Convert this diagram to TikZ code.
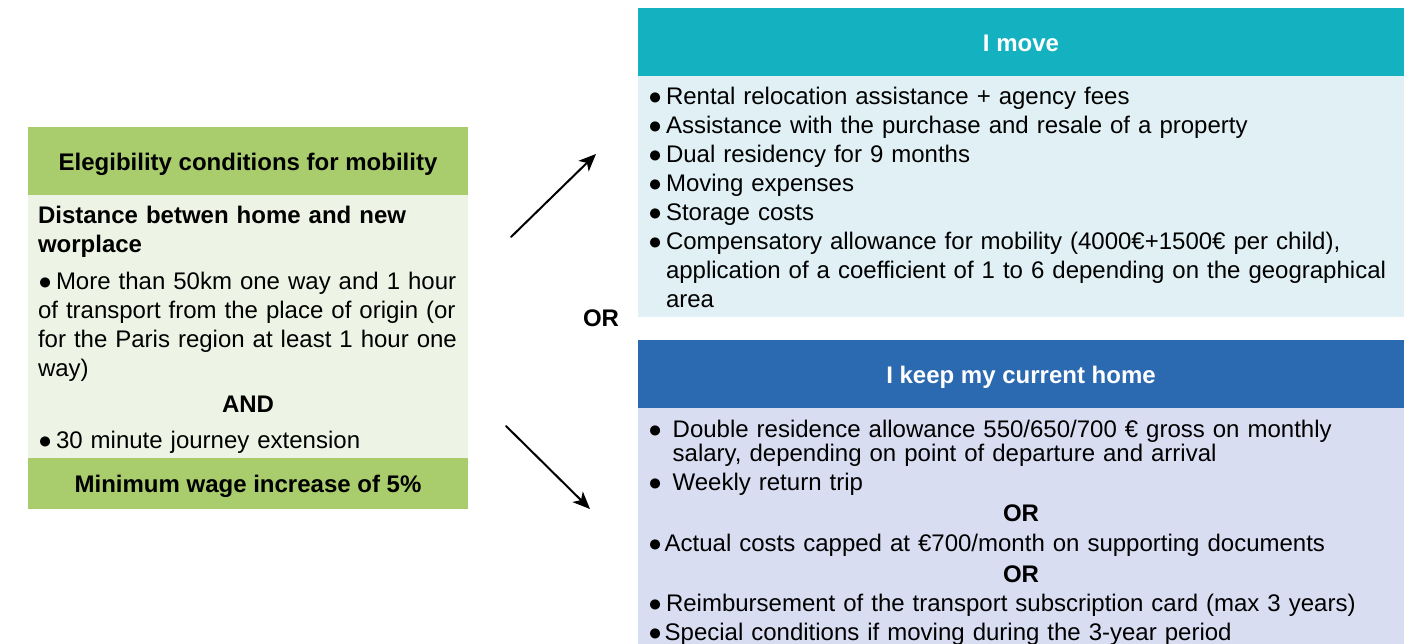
\documentclass[tikz,border=0pt]{standalone}
\usepackage{fontspec}
\setmainfont{Liberation Sans}
\usepackage{xcolor}
\usepackage{tikz}
\usetikzlibrary{arrows.meta, positioning, calc}

\definecolor{leafgreen}{HTML}{A9CD6D}
\definecolor{leafpale}{HTML}{EEF4E5}
\definecolor{lagoon}{HTML}{14B2C0}
\definecolor{lagoonpale}{HTML}{E0F0F4}
\definecolor{cobalt}{HTML}{2B69B0}
\definecolor{lavender}{HTML}{D9DDF1}

\newcommand{\boxfont}{\fontsize{18pt}{21.75pt}\selectfont}
\newcommand{\bul}[1][13.5pt]{\makebox[#1][l]{\fontsize{17.5pt}{17.5pt}\selectfont ●}}
\setlength{\parindent}{0pt}

\begin{document}
\begin{tikzpicture}[
    x=0.75pt, y=-0.75pt,
    head/.style={rectangle, inner sep=0pt, outer sep=0pt, minimum height=51pt, text height=13.5pt, text depth=0pt, font=\boxfont\bfseries, align=center},
    panel/.style={rectangle, inner sep=0pt, outer sep=0pt},
    bodytext/.style={anchor=north west, inner sep=0pt, outer sep=0pt, text width=#1, align=left, font=\boxfont},
    arrow/.style={-{Stealth[length=13pt, width=11pt, inset=3.5pt]}, line width=1.5pt, line cap=round}
  ]
  \useasboundingbox (0,0) rectangle (1414,643);

  % Eligibility
  \node[head, fill=leafgreen, minimum width=330pt] (elighead) at (248,161) {Elegibility conditions for mobility};
  \node[panel, fill=leafpale, minimum width=330pt, minimum height=197.25pt, below=0pt of elighead] (eligbody) {};
  \node[head, fill=leafgreen, minimum width=330pt, minimum height=38.25pt, below=0pt of eligbody] (wagefoot) {Minimum wage increase of 5\%};
  \node[bodytext=325pt] (eligtext) at ($(eligbody.north west)+(10,7.7)$) {\strut\textbf{Distance betwen home and new}\\
    \textbf{worplace}\\[6pt]
    \bul More than 50km one way and 1 hour\\
    of transport from the place of origin (or\\
    for the Paris region at least 1 hour one\\
    way)\\[5.25pt]
    \makebox[315pt]{\textbf{AND}}\\[5.25pt]
    \bul 30 minute journey extension};

  % I move
  \node[head, fill=lagoon, text=white, minimum width=574.5pt] (movehead) at (1021,42) {I move};
  \node[panel, fill=lagoonpale, minimum width=574.5pt, minimum height=180.75pt, below=0pt of movehead] (movebody) {};
  \node[bodytext=559.5pt] (movetext) at ($(movebody.north west)+(10,7.7)$) {\strut\bul Rental relocation assistance + agency fees\\
    \bul Assistance with the purchase and resale of a property\\
    \bul Dual residency for 9 months\\
    \bul Moving expenses\\
    \bul Storage costs\\
    \bul Compensatory allowance for mobility (4000€+1500€ per child),\\
    \hspace*{13.5pt}application of a coefficient of 1 to 6 depending on the geographical\\
    \hspace*{13.5pt}area};

  % I keep my current home
  \node[head, fill=cobalt, text=white, minimum width=574.5pt] (stayhead) at (1021,374) {I keep my current home};
  \node[panel, fill=lavender, minimum width=574.5pt, minimum height=180pt, below=0pt of stayhead] (staybody) {};
  \node[bodytext=559.5pt] (staytext) at ($(staybody.north west)+(10,8.7)$) {\strut\bul[18.5pt]Double residence allowance 550/650/700 € gross on monthly\\[-3.75pt]
    \hspace*{18.5pt}salary, depending on point of departure and arrival\\
    \bul[18.5pt]Weekly return trip\\[1.5pt]
    \makebox[\hsize]{\textbf{OR}}\\[0.75pt]
    \bul[12.5pt]Actual costs capped at €700/month on supporting documents\\[1.5pt]
    \makebox[\hsize]{\textbf{OR}}\\
    \bul Reimbursement of the transport subscription card (max 3 years)\\
    \bul[12.5pt]Special conditions if moving during the 3-year period};

  % OR between the two options
  \node[font=\boxfont\bfseries] (orlabel) at (601,318) {OR};
  \coordinate (upfrom) at (511,237);
  \coordinate (upto) at (596,154);
  \coordinate (downfrom) at (506,426);
  \coordinate (downto) at (590,509);
  \draw[arrow] (upfrom) -- (upto);
  \draw[arrow] (downfrom) -- (downto);
\end{tikzpicture}
\end{document}
